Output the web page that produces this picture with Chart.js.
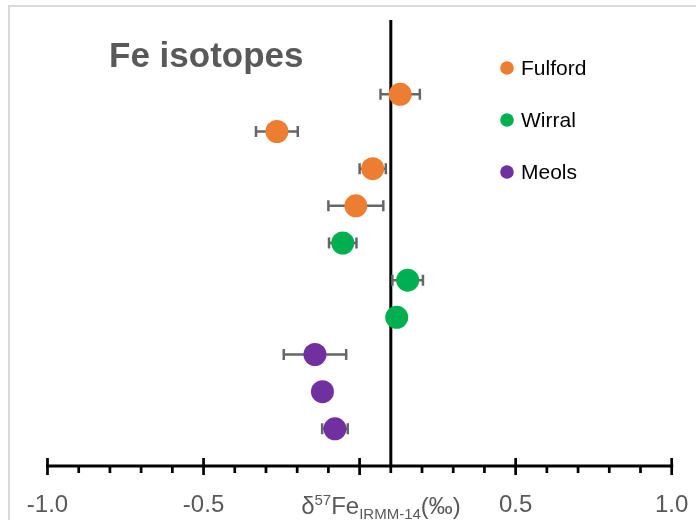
<!DOCTYPE html>
<html>
<head>
<meta charset="utf-8">
<script src="https://cdn.jsdelivr.net/npm/chart.js@4.4.1/dist/chart.umd.min.js"></script>
<style>
  html, body { margin: 0; padding: 0; background: #ffffff; }
  #wrap { width: 696px; height: 520px; position: relative; }
</style>
</head>
<body>
<div id="wrap"><canvas id="c" width="696" height="520"></canvas></div>
<script>
// ---- data ----
const seriesNames = ['Fulford', 'Wirral', 'Meols'];
const seriesColors = ['#ED7D31', '#00B050', '#7030A0'];

const fulfordX = [0.13, -0.265, 0.042, -0.012];
const fulfordY = [10, 9, 8, 7];
const fulfordErr = [0.063, 0.067, 0.042, 0.088];

const wirralX = [-0.054, 0.154, 0.119];
const wirralY = [6, 5, 4];
const wirralErr = [0.044, 0.049, 0];

const meolsX = [-0.143, -0.119, -0.079];
const meolsY = [3, 2, 1];
const meolsErr = [0.10, 0, 0.041];

const majorTicks = [-1.0, -0.5, 0.0, 0.5, 1.0];
const minorTicks = [-0.9, -0.8, -0.7, -0.6, -0.4, -0.3, -0.2, -0.1, 0.1, 0.2, 0.3, 0.4, 0.6, 0.7, 0.8, 0.9];
const tickLabelValues = [-1.0, -0.5, 0.5, 1.0];
const tickLabels = ['-1.0', '-0.5', '0.5', '1.0'];
const referenceX = 0.1;
const chartTitle = 'Fe isotopes';

function pts(xs, ys) { return xs.map((x, i) => ({ x: x, y: ys[i] })); }

const allX = [fulfordX, wirralX, meolsX];
const allY = [fulfordY, wirralY, meolsY];
const allErr = [fulfordErr, wirralErr, meolsErr];

const datasets = seriesNames.map((name, k) => ({
  label: name,
  data: pts(allX[k], allY[k]),
  errors: allErr[k],
  backgroundColor: seriesColors[k],
  borderColor: seriesColors[k],
  borderWidth: 0,
  pointRadius: 11.5,
  pointHoverRadius: 11.5,
  clip: false
}));

const FONT = '"Liberation Sans", Arial, sans-serif';

const decor = {
  id: 'decor',
  beforeDraw(chart) {
    const ctx = chart.ctx;
    ctx.save();
    ctx.fillStyle = '#ffffff';
    ctx.fillRect(0, 0, chart.width, chart.height);
    ctx.strokeStyle = '#d9d9d9';
    ctx.lineWidth = 2;
    ctx.beginPath();
    ctx.moveTo(9, 530);
    ctx.lineTo(9, 6);
    ctx.lineTo(710, 6);
    ctx.stroke();
    ctx.restore();
  },
  beforeDatasetsDraw(chart) {
    const ctx = chart.ctx;
    const xs = chart.scales.x, ys = chart.scales.y;
    ctx.save();
    // reference line
    const rx = xs.getPixelForValue(referenceX);
    ctx.strokeStyle = '#000000';
    ctx.lineWidth = 3;
    ctx.beginPath();
    ctx.moveTo(rx, ys.getPixelForValue(12));
    ctx.lineTo(rx, ys.getPixelForValue(0));
    ctx.stroke();
    // error bars
    ctx.strokeStyle = '#666666';
    ctx.lineWidth = 2.5;
    chart.data.datasets.forEach(ds => {
      ds.data.forEach((p, i) => {
        const e = ds.errors[i];
        if (!e) return;
        const y = ys.getPixelForValue(p.y);
        const x1 = xs.getPixelForValue(p.x - e);
        const x2 = xs.getPixelForValue(p.x + e);
        ctx.beginPath();
        ctx.moveTo(x1, y); ctx.lineTo(x2, y);
        ctx.moveTo(x1, y - 5.5); ctx.lineTo(x1, y + 5.5);
        ctx.moveTo(x2, y - 5.5); ctx.lineTo(x2, y + 5.5);
        ctx.stroke();
      });
    });
    ctx.restore();
  },
  afterDraw(chart) {
    const ctx = chart.ctx;
    const xs = chart.scales.x, ys = chart.scales.y;
    const ay = ys.getPixelForValue(0);
    ctx.save();
    // axis line
    ctx.strokeStyle = '#000000';
    ctx.lineWidth = 3;
    ctx.beginPath();
    ctx.moveTo(xs.getPixelForValue(-1) - 1.5, ay);
    ctx.lineTo(xs.getPixelForValue(1) + 1.5, ay);
    ctx.stroke();
    ctx.lineWidth = 2.7;
    ctx.beginPath();
    majorTicks.forEach(v => {
      const x = xs.getPixelForValue(v);
      ctx.moveTo(x, ay - 8); ctx.lineTo(x, ay + 9);
    });
    minorTicks.forEach(v => {
      const x = xs.getPixelForValue(v);
      ctx.moveTo(x, ay); ctx.lineTo(x, ay + 7);
    });
    ctx.stroke();
    // tick labels
    ctx.fillStyle = '#595959';
    ctx.font = '24px ' + FONT;
    ctx.textAlign = 'center';
    ctx.textBaseline = 'alphabetic';
    tickLabelValues.forEach((v, i) => {
      ctx.fillText(tickLabels[i], xs.getPixelForValue(v), 512);
    });
    // axis title δ57Fe IRMM-14 (‰)
    const parts = [
      { t: 'δ', f: '24px ' + FONT, dy: 0 },
      { t: '57', f: '15px ' + FONT, dy: -9 },
      { t: 'Fe', f: '24px ' + FONT, dy: 0 },
      { t: 'IRMM-14', f: '15px ' + FONT, dy: 5 },
      { t: '(‰)', f: '24px ' + FONT, dy: 0 }
    ];
    let total = 0;
    parts.forEach(p => { ctx.font = p.f; p.w = ctx.measureText(p.t).width; total += p.w; });
    let x = 381 - total / 2;
    ctx.textAlign = 'left';
    parts.forEach(p => {
      ctx.font = p.f;
      ctx.fillText(p.t, x, 514 + p.dy);
      x += p.w;
    });
    // chart title
    ctx.font = 'bold 35px ' + FONT;
    ctx.fillStyle = '#595959';
    ctx.fillText(chartTitle, 109, 66.5);
    // legend
    const ly = [68, 120, 172];
    ctx.font = '21px ' + FONT;
    ctx.textBaseline = 'middle';
    chart.data.datasets.forEach((ds, k) => {
      ctx.fillStyle = ds.backgroundColor;
      ctx.beginPath();
      ctx.arc(507, ly[k], 6.8, 0, Math.PI * 2);
      ctx.fill();
      ctx.fillStyle = '#000000';
      ctx.fillText(ds.label, 521, ly[k] + 1);
    });
    ctx.restore();
  }
};

new Chart(document.getElementById('c'), {
  type: 'scatter',
  data: { datasets: datasets },
  options: {
    responsive: false,
    animation: false,
    layout: { padding: { left: 47.5, right: 24.3, top: 20, bottom: 54 } },
    plugins: { legend: { display: false }, title: { display: false }, tooltip: { enabled: false } },
    scales: {
      x: { type: 'linear', min: -1, max: 1, display: false },
      y: { type: 'linear', min: 0, max: 12, display: false }
    }
  },
  plugins: [decor]
});
</script>
</body>
</html>
